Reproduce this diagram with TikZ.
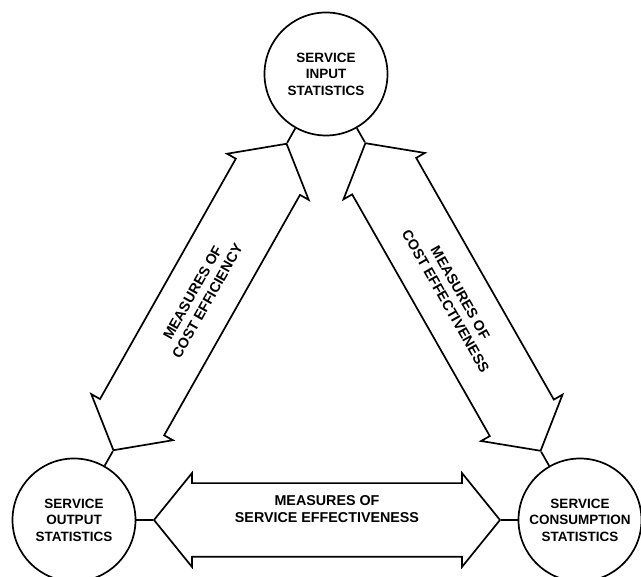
\documentclass[tikz,border=0pt]{standalone}
\usepackage{fontspec}
\setmainfont{Liberation Sans}
\usetikzlibrary{shapes.arrows,calc}

\begin{document}
\begin{tikzpicture}[x=1pt,y=1pt,font=\fontsize{13.5}{16.5}\selectfont\bfseries]
\tikzset{stat/.style={circle,draw,line width=1.7pt,minimum size=123pt,inner sep=0pt,align=center},
  measure/.style={double arrow,draw,line width=1.7pt,inner xsep=0pt,inner ysep=36pt,double arrow head extend=10pt,double arrow tip angle=102},
  lbl/.style={align=center,inner sep=0pt,font=\fontsize{14.3}{17}\selectfont\bfseries},
  stub/.style={line width=1.7pt}}
\useasboundingbox (0,0) rectangle (641,577);
% the three statistics
\node[stat] (input) at (326,503) {SERVICE\\INPUT\\STATISTICS};
\node[stat] (output) at (74,57) {SERVICE\\OUTPUT\\STATISTICS};
\node[stat] (consumption) at (580,57) {SERVICE\\CONSUMPTION\\STATISTICS};
% measures between them
\path (output) -- node[measure,sloped,minimum height=352pt] (costeffic) {} (input);
\path (input) -- node[measure,sloped,minimum height=354pt] (costeffect) {} (consumption);
\path (output) -- node[measure,sloped,minimum height=346pt] (serveffect) {} (consumption);
\path (output) -- node[lbl,sloped] (costefficlbl) {MEASURES OF\\COST EFFICIENCY} (input);
\path (input) -- node[lbl,sloped] (costeffectlbl) {MEASURES OF\\COST EFFECTIVENESS} (consumption);
\path (output) -- node[lbl,yshift=11pt] (serveffectlbl) {MEASURES OF\\SERVICE EFFECTIVENESS} (consumption);
% stubs from the tips to the circles
\draw[stub] (input) -- (costeffic);
\draw[stub] (output) -- (costeffic);
\draw[stub] (input) -- (costeffect);
\draw[stub] (consumption) -- (costeffect);
\draw[stub] (output) -- (serveffect);
\draw[stub] (consumption) -- (serveffect);
\end{tikzpicture}
\end{document}
